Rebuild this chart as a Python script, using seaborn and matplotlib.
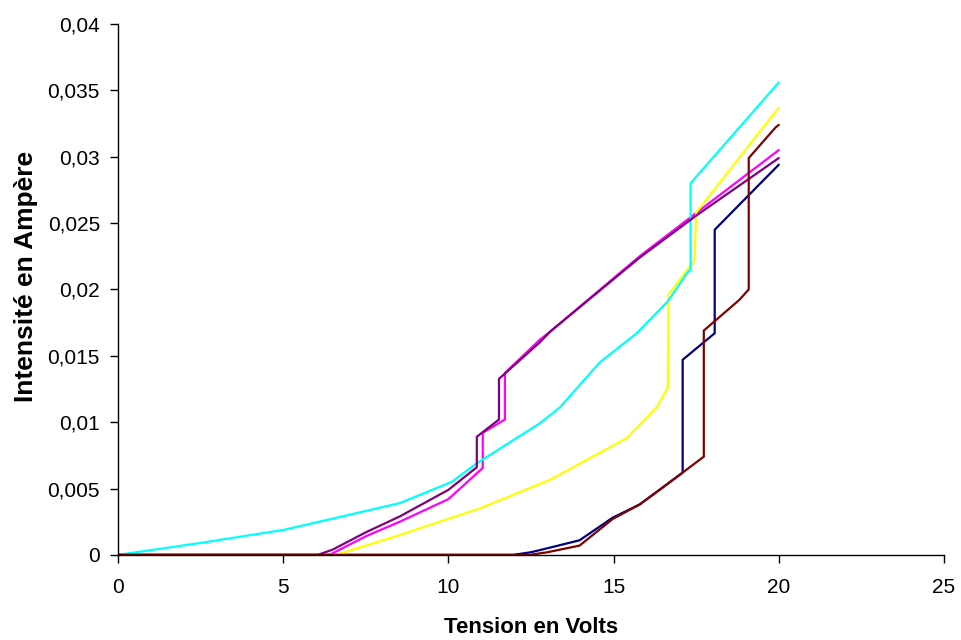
import numpy as np
import pandas as pd
import matplotlib
matplotlib.use('Agg')
import matplotlib.pyplot as plt
import seaborn as sns
from matplotlib.ticker import FuncFormatter

sns.set_style('ticks')
plt.rcParams['font.family'] = ['Liberation Sans', 'DejaVu Sans']
plt.rcParams['text.color'] = 'black'
plt.rcParams['axes.labelcolor'] = 'black'

# tension (V) / intensite (A), one pair of lists per curve
navy_v = [0, 11.96, 12.5, 13.0, 13.97, 14.97, 15.79, 16.39, 17.09, 17.09, 18.06, 18.06, 20]
navy_i = [0, 0, 0.0002, 0.0005, 0.0011, 0.0028, 0.0038, 0.0049, 0.0062, 0.0147, 0.0167, 0.0245, 0.0294]

magenta_v = [0, 6.4, 7.5, 8.53, 10.0, 11.04, 11.04, 11.71, 11.71, 12.76, 13.07, 15.79, 17.52, 20]
magenta_i = [0, 0, 0.0014, 0.0025, 0.0042, 0.00655, 0.0092, 0.0102, 0.0137, 0.0162, 0.0168, 0.0225, 0.0258, 0.0305]

yellow_v = [0, 6.6, 7.5, 8.53, 10.95, 13.07, 15.4, 16.3, 16.64, 16.66, 17.45, 17.5, 20]
yellow_i = [0, 0, 0.0007, 0.0015, 0.0035, 0.00565, 0.0088, 0.0111, 0.0126, 0.0196, 0.0222, 0.0258, 0.0337]

cyan_v = [0, 2.5, 5.05, 8.53, 10.1, 10.86, 12.76, 13.37, 14.58, 15.7, 16.64, 17.24, 17.33, 17.33, 20]
cyan_i = [0, 0.0009, 0.0019, 0.0039, 0.0055, 0.0069, 0.0099, 0.0111, 0.0145, 0.0167, 0.0191, 0.0213, 0.0215, 0.028, 0.0356]

purple_v = [0, 6.05, 6.5, 7.5, 8.53, 10.0, 10.86, 10.86, 11.53, 11.53, 12.76, 13.07, 15.79, 17.52, 20]
purple_i = [0, 0, 0.0004, 0.0017, 0.0029, 0.0049, 0.0066, 0.0089, 0.0102, 0.01326, 0.016, 0.0168, 0.0224, 0.0256, 0.0299]

darkred_v = [0, 12.46, 13.0, 13.97, 14.97, 15.79, 16.39, 17.09, 17.73, 17.73, 18.8, 19.09, 19.09, 19.9, 20]
darkred_i = [0, 0, 0.0002, 0.0007, 0.0027, 0.0038, 0.0049, 0.0062, 0.0074, 0.0169, 0.0192, 0.02, 0.0299, 0.0322, 0.0324]

series = {
    'navy': (navy_v, navy_i),
    'magenta': (magenta_v, magenta_i),
    'yellow': (yellow_v, yellow_i),
    'cyan': (cyan_v, cyan_i),
    'purple': (purple_v, purple_i),
    'darkred': (darkred_v, darkred_i),
}
colors = {'navy': '#000080', 'magenta': '#FF00FF', 'yellow': '#FFFF00',
          'cyan': '#00FFFF', 'purple': '#800080', 'darkred': '#800000'}

frames = []
for name, (v, i) in series.items():
    frames.append(pd.DataFrame({'tension': v, 'intensite': i, 'serie': name}))
df = pd.concat(frames, ignore_index=True)

fig = plt.figure(figsize=(9.61, 6.4), dpi=100)
ax = fig.add_axes([0.1228, 0.133, 0.8595, 0.8295])

sns.lineplot(data=df, x='tension', y='intensite', hue='serie', palette=colors,
             estimator=None, sort=False, linewidth=1.6, legend=False, ax=ax)

ax.set_xlim(0, 25)
ax.set_ylim(0, 0.04)
ax.set_xticks([0, 5, 10, 15, 20, 25])
ax.set_yticks(np.arange(0, 0.0401, 0.005))
ax.yaxis.set_major_formatter(FuncFormatter(lambda y, p: ('%g' % round(y, 4)).replace('.', ',')))
ax.tick_params(axis='both', direction='out', length=6, width=1, colors='black', labelsize=15)
ax.tick_params(axis='x', pad=11)
ax.tick_params(axis='y', pad=7)
sns.despine(ax=ax)
for s in ['left', 'bottom']:
    ax.spines[s].set_color('black')
    ax.spines[s].set_linewidth(1)

ax.set_xlabel('Tension en Volts', fontsize=16, fontweight='bold', labelpad=14, color='black')
ax.set_ylabel('Intensité en Ampère', fontsize=19, fontweight='bold', color='black')
ax.yaxis.set_label_coords(-0.097, 0.524)

fig.savefig('out.png', dpi=100)
